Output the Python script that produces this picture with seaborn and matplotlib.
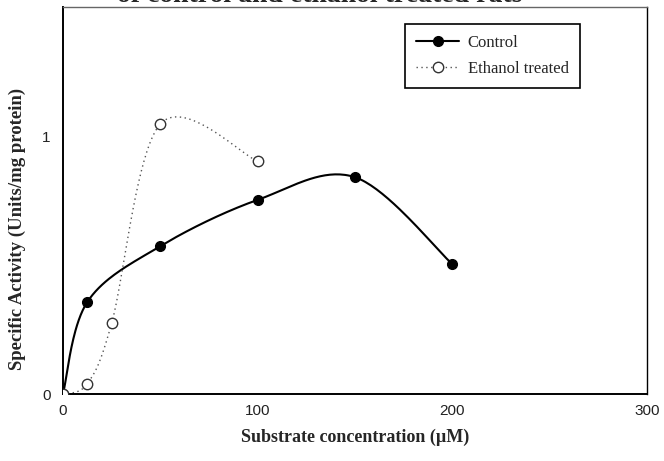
import numpy as np
import pandas as pd
import matplotlib
matplotlib.use("Agg")
import matplotlib.pyplot as plt
from matplotlib.lines import Line2D
import seaborn as sns

# ---- data ----
control_x = [0, 12.5, 50, 100, 150, 200]
control_y = [0.0, 0.358, 0.575, 0.755, 0.843, 0.505]
ethanol_x = [0, 12.5, 25, 50, 100]
ethanol_y = [0.0, 0.04, 0.275, 1.05, 0.905]
x_ticks = [0, 100, 200, 300]
y_ticks = [0, 1]
series_names = ["Control", "Ethanol treated"]
title_text = "of control and ethanol treated rats"


def smooth(xs, ys, n=40):
    """Excel-like smoothed line (Catmull-Rom Bezier through the data points)."""
    p = np.column_stack([xs, ys]).astype(float)
    p = np.vstack([p[0], p, p[-1]])
    out = []
    for i in range(1, len(p) - 2):
        p0, p1, p2, p3 = p[i - 1], p[i], p[i + 1], p[i + 2]
        c1 = p1 + (p2 - p0) / 6.0
        c2 = p2 - (p3 - p1) / 6.0
        t = np.linspace(0, 1, n)[:, None]
        seg = ((1 - t) ** 3) * p1 + 3 * ((1 - t) ** 2) * t * c1 + 3 * (1 - t) * t ** 2 * c2 + t ** 3 * p2
        out.append(seg if i == 1 else seg[1:])
    s = np.vstack(out)
    return s[:, 0], s[:, 1]


sns.set_theme(style="white")
plt.rcParams["font.family"] = ["Liberation Sans", "DejaVu Sans"]

fig = plt.figure(figsize=(6.64, 4.61), dpi=100)
ax = fig.add_axes([63 / 664, 1 - 394 / 461, (647 - 63) / 664, (394 - 7) / 461])

cx, cy = smooth(control_x, control_y)
ex, ey = smooth(ethanol_x, ethanol_y)
df_c = pd.DataFrame({"x": cx, "y": cy})
df_e = pd.DataFrame({"x": ex, "y": ey})

sns.lineplot(data=df_c, x="x", y="y", sort=False, estimator=None, color="black",
             lw=1.5, ax=ax, zorder=2)
sns.lineplot(data=df_e, x="x", y="y", sort=False, estimator=None, color="#555555",
             lw=1.0, linestyle=(0, (1, 2.5)), ax=ax, zorder=2)
ax.plot(control_x, control_y, "o", color="black", ms=7, zorder=3)
ax.plot(ethanol_x, ethanol_y, "o", mfc="white", mec="#333333", mew=1.0, ms=7.5, zorder=3)

ax.set_xlim(0, 300)
ax.set_ylim(0, 1.505)
ax.set_xticks(x_ticks)
ax.set_yticks(y_ticks)
ax.tick_params(axis="x", direction="in", length=5, width=1, labelsize=11, pad=7, colors="black")
ax.tick_params(axis="y", direction="out", length=5, width=1, labelsize=11, pad=4, colors="black")
for lab in ax.get_xticklabels() + ax.get_yticklabels():
    lab.set_color("#222222")

for side in ["left", "bottom", "top", "right"]:
    ax.spines[side].set_visible(True)
    ax.spines[side].set_color("black")
    ax.spines[side].set_linewidth(1.0)
ax.spines["left"].set_linewidth(1.4)
ax.spines["bottom"].set_linewidth(1.4)
ax.spines["top"].set_color("#666666")

serif = ["Liberation Serif", "DejaVu Serif"]
ax.set_xlabel("Substrate concentration (\u00b5M)", family=serif, fontweight="bold",
              fontsize=13, labelpad=8)
ax.set_ylabel("Specific Activity (Units/mg protein)", family=serif, fontweight="bold",
              fontsize=13.5)
ax.yaxis.set_label_coords(-0.064, 0.426)

# title is cut by the top edge in the reference scan
fig.text(0.482, 1 - 1.5 / 461, title_text, ha="center", va="baseline",
         family=serif, fontweight="bold", fontsize=20)

handles = [
    Line2D([], [], color="black", lw=1.5, marker="o", ms=7),
    Line2D([], [], color="#555555", lw=1.0, linestyle=(0, (1, 2.5)), marker="o",
           mfc="white", mec="#333333", ms=7.5),
]
leg = ax.legend(handles, series_names, loc="upper left", bbox_to_anchor=(0.586, 0.956),
                borderaxespad=0, frameon=True, fancybox=False, edgecolor="black",
                framealpha=1, prop={"family": serif, "size": 12}, handlelength=2.6,
                borderpad=0.65, labelspacing=0.6, handletextpad=0.5)
leg.get_frame().set_linewidth(1.2)

fig.savefig("out.png", dpi=100)
